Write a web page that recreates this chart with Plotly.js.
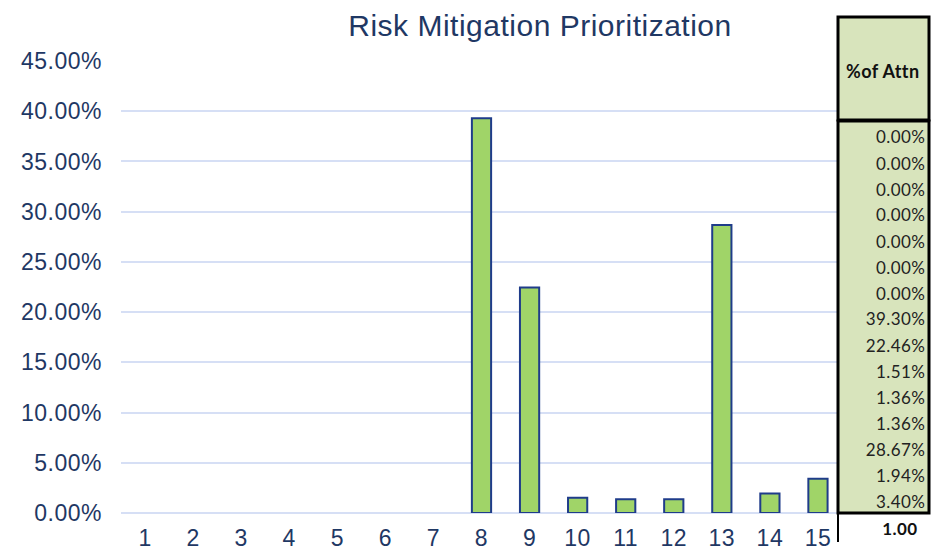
<!DOCTYPE html>
<html>
<head>
<meta charset="utf-8">
<script src="https://cdn.plot.ly/plotly-3.0.1.min.js"></script>
<style>
  html, body { margin: 0; padding: 0; background: #ffffff; }
  #chart { width: 941px; height: 553px; }
  /* slightly wider tracking for the title and axis labels */
  #chart .gtitle { letter-spacing: 0.5px; }
  #chart .xtick text, #chart .ytick text { letter-spacing: 0.5px; }
  #chart .annotation-text { letter-spacing: 0.4px; }
</style>
</head>
<body>
<div id="chart"></div>
<script>
// Risk items 1..15 and their share of mitigation attention (percent)
const riskIds = ["1","2","3","4","5","6","7","8","9","10","11","12","13","14","15"];
const attnPct = [0.00, 0.00, 0.00, 0.00, 0.00, 0.00, 0.00, 39.30, 22.46, 1.51, 1.36, 1.36, 28.67, 1.94, 3.40];
const yTickVals = [0, 5, 10, 15, 20, 25, 30, 35, 40, 45];
const yTickText = yTickVals.map(v => v.toFixed(2) + "%");
const tableHeader = "%of Attn";

const W = 941, H = 553;
const M = { l: 121, r: 10, t: 10, b: 10 };
const PW = W - M.l - M.r, PH = H - M.t - M.b;
// pixel -> paper coordinate helpers
const px = x => (x - M.l) / PW;
const py = y => (H - M.b - y) / PH;

const navy = "#1F3864";
const cellFill = "#D8E4BC";
const tableFont = "Lato, 'Open Sans', sans-serif";

const trace = {
  type: "bar",
  x: riskIds,
  y: attnPct,
  width: 0.4,
  marker: {
    color: "#A0D468",
    // empty bars get no outline
    line: { color: "#1F3C8A", width: attnPct.map(v => (v > 0 ? 2 : 0)) }
  },
  hoverinfo: "x+y"
};

const shapes = [];
const annotations = [];

// header cell
shapes.push({ type: "rect", xref: "paper", yref: "paper",
  x0: px(838), x1: px(929), y0: py(120), y1: py(17),
  fillcolor: cellFill, line: { color: "#000", width: 3 }, layer: "above" });
// body cell
shapes.push({ type: "rect", xref: "paper", yref: "paper",
  x0: px(838), x1: px(929), y0: py(513), y1: py(121),
  fillcolor: cellFill, line: { color: "#000", width: 3 }, layer: "above" });
// left rule continuing under the body
shapes.push({ type: "line", xref: "paper", yref: "paper",
  x0: px(838), x1: px(838), y0: py(513), y1: py(542),
  line: { color: "#000", width: 2 }, layer: "above" });

annotations.push({ xref: "paper", yref: "paper", x: px(883), y: py(71),
  text: "<b>" + tableHeader + "</b>", showarrow: false,
  xanchor: "center", yanchor: "middle",
  font: { family: tableFont, size: 18, color: "#111" } });

attnPct.forEach((v, i) => {
  annotations.push({ xref: "paper", yref: "paper", x: px(926), y: py(137 + 26 * i),
    text: v.toFixed(2) + "%", showarrow: false,
    xanchor: "right", yanchor: "middle",
    font: { family: tableFont, size: 17, color: "#222" } });
});

const total = attnPct.reduce((a, b) => a + b, 0) / 100;
annotations.push({ xref: "paper", yref: "paper", x: px(919), y: py(528),
  text: "<b>" + total.toFixed(2) + "</b>", showarrow: false,
  xanchor: "right", yanchor: "middle",
  font: { family: tableFont, size: 17, color: "#111" } });

const layout = {
  width: W, height: H,
  margin: M,
  paper_bgcolor: "#ffffff",
  plot_bgcolor: "#ffffff",
  showlegend: false,
  bargap: 0.6,
  title: {
    text: "Risk Mitigation Prioritization",
    font: { family: "'Liberation Sans', Arial, sans-serif", size: 30, color: navy },
    xref: "paper", x: px(540), xanchor: "center",
    yref: "container", y: 1 - 25 / H, yanchor: "middle"
  },
  xaxis: {
    domain: [0, px(842)],
    type: "category",
    showgrid: false, zeroline: false, showline: false,
    ticks: "",
    ticklabelstandoff: 9,
    tickfont: { family: "'Liberation Sans', Arial, sans-serif", size: 23, color: navy }
  },
  yaxis: {
    domain: [py(513), py(61)],
    range: [0, 45],
    tickvals: yTickVals,
    ticktext: yTickText,
    showgrid: true, gridcolor: "#D6DFF5", gridwidth: 2,
    zeroline: true, zerolinecolor: "#D6DFF5", zerolinewidth: 2,
    showline: false, ticks: "",
    ticklabelstandoff: 18,
    tickfont: { family: "'Liberation Sans', Arial, sans-serif", size: 23, color: navy }
  },
  shapes: shapes,
  annotations: annotations
};

Plotly.newPlot("chart", [trace], layout, { displayModeBar: false, staticPlot: true });
</script>
</body>
</html>
